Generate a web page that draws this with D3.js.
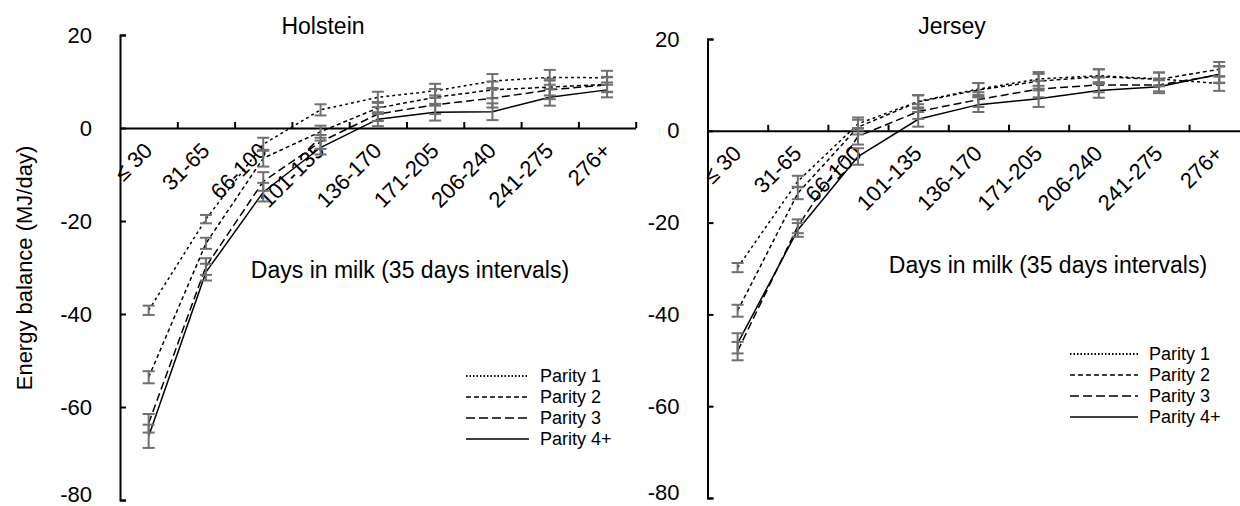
<!DOCTYPE html>
<html lang="en">
<head>
<meta charset="UTF-8">
<title>Energy balance by parity</title>
<script src="https://cdn.jsdelivr.net/npm/d3@7"></script>
<style>
  body { margin: 0; background: #fff; }
  text { font-family: "Liberation Sans", Arial, sans-serif; fill: #000; }
  .axis path, .axis line { stroke: #000; stroke-width: 2; }
  .line { fill: none; stroke: #000; stroke-width: 1.5; }
  .err { stroke: #707070; stroke-width: 2; }
</style>
</head>
<body>
<svg id="chart" width="1240" height="506"></svg>
<script>
// categories (days in milk)
let categories = ["\u2264 30", "31-65", "66-100", "101-135", "136-170", "171-205", "206-240", "241-275", "276+"]
let seriesNames = ["Parity 1", "Parity 2", "Parity 3", "Parity 4+"]
let yTicks = [20, 0, -20, -40, -60, -80]

// Holstein means and error (MJ/day)
let holP1 = [-39.2, -19.6, -3.5, 3.9, 6.6, 8.0, 10.1, 10.9, 10.8]
let holP2 = [-53.6, -24.8, -6.5, -0.8, 4.3, 6.6, 8.2, 8.8, 9.4]
let holP3 = [-63.5, -29.8, -11.5, -3.0, 3.0, 5.0, 6.4, 8.2, 9.3]
let holP4 = [-66.3, -31.0, -13.8, -4.2, 1.9, 3.4, 3.5, 6.6, 8.2]
let holE1 = [1.0, 0.9, 1.4, 1.2, 1.2, 1.5, 1.5, 1.6, 1.5]
let holE2 = [1.3, 1.2, 1.8, 1.3, 1.3, 1.8, 1.8, 1.8, 1.6]
let holE3 = [2.0, 1.8, 2.0, 1.5, 1.5, 2.0, 2.0, 2.0, 1.6]
let holE4 = [2.5, 1.8, 2.0, 1.5, 1.5, 1.8, 1.8, 1.8, 1.6]

// Jersey means and error (MJ/day)
let jerP1 = [-29.8, -11.0, 1.5, 6.4, 9.1, 11.3, 12.0, 11.3, 10.3]
let jerP2 = [-39.2, -13.6, 0.8, 6.3, 8.9, 10.8, 11.8, 11.2, 13.4]
let jerP3 = [-48.0, -20.8, -1.2, 4.2, 6.8, 9.1, 10.0, 10.0, 12.2]
let jerP4 = [-46.3, -21.6, -5.6, 2.5, 5.7, 7.0, 8.8, 9.6, 12.3]
let jerE1 = [1.0, 1.2, 1.4, 1.3, 1.3, 1.5, 1.4, 1.4, 1.6]
let jerE2 = [1.3, 1.3, 1.6, 1.5, 1.5, 1.6, 1.6, 1.5, 1.6]
let jerE3 = [2.0, 1.5, 1.8, 1.6, 1.6, 1.8, 1.6, 1.4, 1.8]
let jerE4 = [2.2, 1.5, 1.8, 1.6, 1.6, 1.8, 1.6, 1.4, 1.8]

let dashPlot = ["2.8,3.2", "4,3", "8,4", null]
let dashLegend = ["1.5,2", "5,3", "9,4", null]

let svg = d3.select("#chart")

function drawPanel(p) {
    let g = svg.append("g")
    let x = d3.scaleBand().domain(categories).range([p.left, p.left + p.bw * categories.length])
    let xEdge = d3.scaleLinear().domain([0, categories.length]).range(x.range())
    let y = d3.scaleLinear().domain([-80, 20]).range([p.bottom, p.top])
    let cx = c => x(c) + x.bandwidth() / 2

    // y axis, ticks pointing inside
    g.append("g").attr("class", "axis")
        .attr("transform", "translate(" + p.left + ",0)")
        .call(d3.axisLeft(y).tickValues(yTicks).tickFormat(d => String(d))
            .tickSizeInner(-6).tickSizeOuter(-6).tickPadding(28))
        .call(a => a.selectAll("text").style("font-size", "22px")
            .attr("dy", d => d == -80 ? "0.05em" : "0.32em"))

    // x axis sits on y = 0, ticks between categories
    g.append("g").attr("class", "axis")
        .attr("transform", "translate(0," + y(0) + ")")
        .call(d3.axisBottom(xEdge).tickValues(d3.range(1, categories.length + 1)).tickFormat("")
            .tickSizeInner(-6).tickSizeOuter(0))

    g.selectAll(".cat").data(categories).enter().append("text")
        .attr("transform", c => "translate(" + (cx(c) + 5) + "," + (y(0) + 24) + ") rotate(-45)")
        .attr("text-anchor", "end")
        .style("font-size", "22px")
        .text(c => c)

    let line = d3.line().x((d, i) => cx(categories[i])).y(d => y(d))
    p.means.forEach((s, k) => {
        g.append("path").datum(s).attr("class", "line")
            .attr("d", line)
            .attr("stroke-dasharray", dashPlot[k])
            .attr("stroke-width", k == 0 ? 2.8 : 1.5)
    })

    // error bars
    p.means.forEach((s, k) => {
        let e = p.errs[k]
        let eb = g.append("g").attr("class", "err")
        s.forEach((v, i) => {
            let xx = cx(categories[i])
            eb.append("line").attr("x1", xx).attr("x2", xx).attr("y1", y(v - e[i])).attr("y2", y(v + e[i]))
            eb.append("line").attr("x1", xx - 6).attr("x2", xx + 6).attr("y1", y(v - e[i])).attr("y2", y(v - e[i]))
            eb.append("line").attr("x1", xx - 6).attr("x2", xx + 6).attr("y1", y(v + e[i])).attr("y2", y(v + e[i]))
        })
    })

    g.append("text").attr("x", p.titleX).attr("y", 34).attr("text-anchor", "middle")
        .style("font-size", "23px").text(p.title)
    g.append("text").attr("x", p.xTitleX).attr("y", p.xTitleY).attr("text-anchor", "middle")
        .style("font-size", "23px").text("Days in milk (35 days intervals)")

    // legend
    seriesNames.forEach((n, k) => {
        let ly = p.legY + k * p.legStep
        g.append("line").attr("x1", p.legX).attr("x2", p.legX + p.legW).attr("y1", ly).attr("y2", ly)
            .attr("stroke", "#000").attr("stroke-width", k == 0 ? 2 : 1.5)
            .attr("stroke-dasharray", dashLegend[k])
        g.append("text").attr("x", p.legX + p.legW + 11).attr("y", ly).attr("dy", "0.35em")
            .style("font-size", "18px").text(n)
    })
}

drawPanel({
    title: "Holstein", means: [holP1, holP2, holP3, holP4], errs: [holE1, holE2, holE3, holE4],
    left: 120, bw: 57.3, top: 35, bottom: 500, titleX: 323, xTitleX: 410, xTitleY: 278,
    legX: 466, legW: 63, legY: 376, legStep: 21
})
drawPanel({
    title: "Jersey", means: [jerP1, jerP2, jerP3, jerP4], errs: [jerE1, jerE2, jerE3, jerE4],
    left: 707.5, bw: 60.2, top: 39, bottom: 498, titleX: 952, xTitleX: 1048, xTitleY: 273,
    legX: 1070, legW: 68, legY: 354, legStep: 21
})

svg.append("text").attr("transform", "translate(24,268) rotate(-90)")
    .attr("text-anchor", "middle").attr("dy", "0.35em")
    .style("font-size", "22px").text("Energy balance (MJ/day)")
</script>
</body>
</html>
